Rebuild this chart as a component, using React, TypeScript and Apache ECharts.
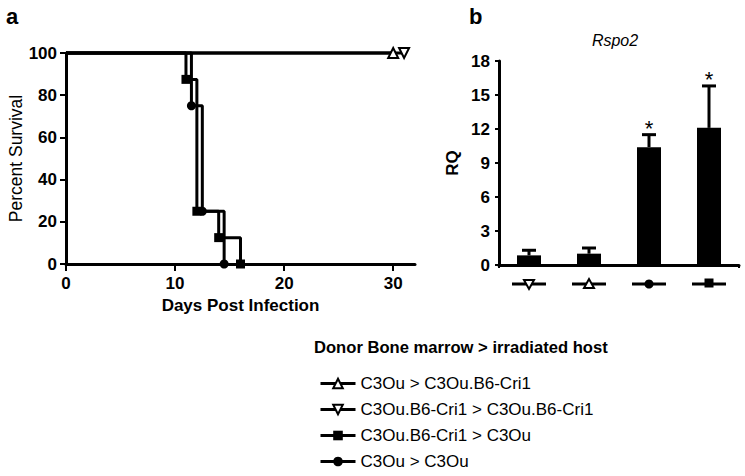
import React, { useEffect, useRef } from "react";
import * as echarts from "echarts";

// ---- Panel a: survival data (day, percent) ----
const triUpSurvival: number[][] = [[0, 100], [30, 100]];
const triDownSurvival: number[][] = [[0, 100], [31, 100]];
const squareSurvival: number[][] = [[0, 100], [11, 87.5], [12, 25], [14, 12.5], [16, 0]];
const circleSurvival: number[][] = [[0, 100], [11.5, 75], [12.5, 25], [14.5, 0]];
const survivalXTicks: number[] = [0, 10, 20, 30];

const groupNames: string[] = [
  "C3Ou > C3Ou.B6-Cri1",
  "C3Ou.B6-Cri1 > C3Ou.B6-Cri1",
  "C3Ou.B6-Cri1 > C3Ou",
  "C3Ou > C3Ou",
];

// ---- Panel b: Rspo2 RQ ----
const rqCategories: string[] = [
  "C3Ou.B6-Cri1 > C3Ou.B6-Cri1",
  "C3Ou > C3Ou.B6-Cri1",
  "C3Ou > C3Ou",
  "C3Ou.B6-Cri1 > C3Ou",
];
const rqMarkers: string[] = ["triangleDown", "triangleUp", "circle", "square"];
const rqValues: number[] = [0.85, 1.0, 10.4, 12.1];
const rqErrorTop: number[] = [1.3, 1.5, 11.5, 15.8];
const rqSignif: string[] = ["", "", "*", "*"];

const FONT = "Liberation Sans";
const BLACK = "#000";

export default function App() {
  const ref = useRef<HTMLDivElement>(null);

  useEffect(() => {
    if (!ref.current) return;
    const chart = echarts.init(ref.current, null, { renderer: "svg" });

    const axisLine = { show: true, lineStyle: { color: BLACK, width: 3 } };
    const tickLabel = { color: BLACK, fontFamily: FONT, fontWeight: "bold" as const, fontSize: 17 };

    const lineSeries = (
      name: string,
      pts: number[][],
      symbol: string,
      size: number,
      open: boolean,
      rotate = 0
    ) => ({
      type: "line",
      name,
      xAxisIndex: 0,
      yAxisIndex: 0,
      step: "end",
      clip: false,
      symbol,
      symbolSize: size,
      symbolRotate: rotate,
      lineStyle: { color: BLACK, width: 3 },
      itemStyle: open
        ? { color: "#fff", borderColor: BLACK, borderWidth: 2 }
        : { color: BLACK, borderColor: BLACK, borderWidth: 0 },
      data: pts.map((p, i) => (i === 0 ? { value: p, symbol: "none" } : { value: p })),
      z: open ? 4 : 3,
    });

    const option: any = {
      animation: false,
      textStyle: { fontFamily: FONT },
      grid: [
        { left: 66, top: 53, width: 349, height: 211 },
        { left: 499, top: 61, width: 240, height: 204 },
      ],
      xAxis: [
        {
          type: "value",
          gridIndex: 0,
          min: 0,
          max: 32,
          interval: 10,
          axisLine,
          axisTick: { show: true, length: 7, lineStyle: { color: BLACK, width: 2 }, customValues: survivalXTicks },
          axisLabel: {
            ...tickLabel,
            margin: 11,
            customValues: survivalXTicks,
            formatter: (v: number) => (survivalXTicks.indexOf(v) >= 0 ? String(v) : ""),
          },
          splitLine: { show: false },
          name: "Days Post Infection",
          nameLocation: "middle",
          nameGap: 33,
          nameTextStyle: { color: BLACK, fontFamily: FONT, fontWeight: "bold", fontSize: 17 },
        },
        {
          type: "category",
          gridIndex: 1,
          data: rqCategories,
          axisLine,
          axisTick: { show: true, length: 3, lineStyle: { color: BLACK, width: 2 } },
          axisLabel: { show: false },
        },
      ],
      yAxis: [
        {
          type: "value",
          gridIndex: 0,
          min: 0,
          max: 100,
          interval: 20,
          axisLine,
          axisTick: { show: true, length: 6, lineStyle: { color: BLACK, width: 2 } },
          axisLabel: { ...tickLabel, margin: 9 },
          splitLine: { show: false },
          name: "Percent Survival",
          nameLocation: "middle",
          nameGap: 38,
          nameTextStyle: { color: BLACK, fontFamily: FONT, fontSize: 17.5 },
        },
        {
          type: "value",
          gridIndex: 1,
          min: 0,
          max: 18,
          interval: 3,
          axisLine,
          axisTick: { show: true, length: 4, lineStyle: { color: BLACK, width: 2 } },
          axisLabel: { ...tickLabel, margin: 9 },
          splitLine: { show: false },
          name: "RQ",
          nameLocation: "middle",
          nameGap: 38,
          nameTextStyle: { color: BLACK, fontFamily: FONT, fontWeight: "bold", fontSize: 17 },
        },
      ],
      legend: {
        orient: "vertical",
        left: 314,
        top: 370,
        itemWidth: 35,
        itemHeight: 12,
        itemGap: 9,
        selectedMode: false,
        data: groupNames,
        lineStyle: { width: 3 },
        textStyle: { color: BLACK, fontFamily: FONT, fontSize: 17 },
      },
      graphic: [
        { type: "text", left: 6, top: 5, style: { text: "a", fontFamily: FONT, fontWeight: "bold", fontSize: 22, fill: BLACK } },
        { type: "text", left: 469, top: 5, style: { text: "b", fontFamily: FONT, fontWeight: "bold", fontSize: 22, fill: BLACK } },
        {
          type: "text",
          x: 615,
          y: 40,
          style: { text: "Rspo2", fontFamily: FONT, fontStyle: "italic", fontSize: 16, fill: BLACK, align: "center", verticalAlign: "middle" },
        },
        {
          type: "text",
          x: 314,
          y: 347,
          style: {
            text: "Donor Bone marrow > irradiated host",
            fontFamily: FONT,
            fontWeight: "bold",
            fontSize: 16.6,
            fill: BLACK,
            verticalAlign: "middle",
          },
        },
      ],
      series: [
        lineSeries(groupNames[0], triUpSurvival, "triangle", 10, true),
        lineSeries(groupNames[1], triDownSurvival, "triangle", 10, true, 180),
        lineSeries(groupNames[2], squareSurvival, "rect", 9, false),
        lineSeries(groupNames[3], circleSurvival, "circle", 9, false),
        {
          type: "bar",
          xAxisIndex: 1,
          yAxisIndex: 1,
          barWidth: 24,
          itemStyle: { color: BLACK },
          data: rqValues,
          z: 3,
        },
        {
          type: "custom",
          xAxisIndex: 1,
          yAxisIndex: 1,
          clip: false,
          z: 2,
          data: rqValues.map((v, i) => [i, rqErrorTop[i], v]),
          renderItem: (params: any, api: any) => {
            const idx = api.value(0);
            const top = api.coord([idx, api.value(1)]);
            const base = api.coord([idx, api.value(2)]);
            const children: any[] = [
              { type: "line", shape: { x1: top[0], y1: top[1], x2: base[0], y2: base[1] }, style: { stroke: BLACK, lineWidth: 3 } },
              { type: "line", shape: { x1: top[0] - 7, y1: top[1], x2: top[0] + 7, y2: top[1] }, style: { stroke: BLACK, lineWidth: 3 } },
            ];
            const sig = rqSignif[params.dataIndex];
            if (sig) {
              children.push({
                type: "text",
                x: top[0],
                y: top[1] - 6,
                style: { text: sig, fontFamily: FONT, fontSize: 22, fill: BLACK, align: "center", verticalAlign: "middle" },
              });
            }
            return { type: "group", children };
          },
        },
        {
          type: "custom",
          xAxisIndex: 1,
          yAxisIndex: 1,
          clip: false,
          data: rqCategories.map((_, i) => [i, 0]),
          renderItem: (params: any, api: any) => {
            const p = api.coord([api.value(0), 0]);
            const x = p[0];
            const y = p[1] + 19;
            const kind = rqMarkers[params.dataIndex];
            const children: any[] = [
              { type: "line", shape: { x1: x - 17, y1: y, x2: x + 17, y2: y }, style: { stroke: BLACK, lineWidth: 3 } },
            ];
            if (kind === "triangleDown") {
              children.push({ type: "polygon", shape: { points: [[x - 5, y - 4], [x + 5, y - 4], [x, y + 5]] }, style: { fill: "#fff", stroke: BLACK, lineWidth: 2 } });
            } else if (kind === "triangleUp") {
              children.push({ type: "polygon", shape: { points: [[x - 5, y + 4], [x + 5, y + 4], [x, y - 5]] }, style: { fill: "#fff", stroke: BLACK, lineWidth: 2 } });
            } else if (kind === "circle") {
              children.push({ type: "circle", shape: { cx: x, cy: y, r: 4.5 }, style: { fill: BLACK } });
            } else {
              children.push({ type: "rect", shape: { x: x - 4.5, y: y - 5.5, width: 9, height: 9 }, style: { fill: BLACK } });
            }
            return { type: "group", children };
          },
        },
      ],
    };

    chart.setOption(option);
    return () => chart.dispose();
  }, []);

  return <div ref={ref} style={{ position: "fixed", left: 0, top: 0, width: 745, height: 476, background: "#fff" }} />;
}
